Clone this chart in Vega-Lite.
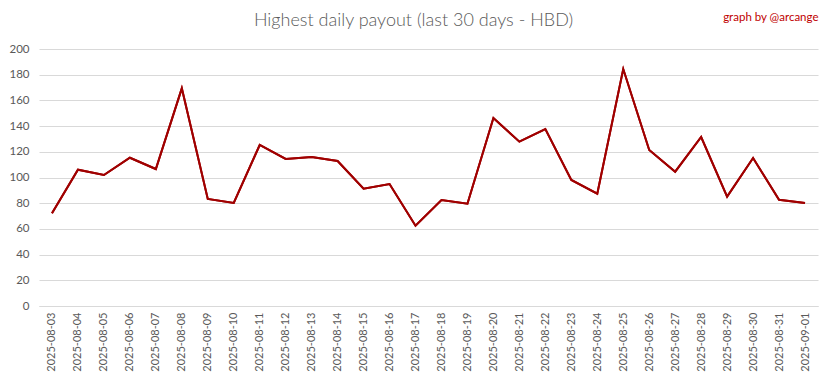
{
  "$schema": "https://vega.github.io/schema/vega-lite/v6.json",
  "autosize": "none",
  "width": 779,
  "height": 257,
  "padding": {"left": 39, "top": 49, "right": 15, "bottom": 73},
  "background": "white",
  "title": {
    "text": "Highest daily payout (last 30 days - HBD)",
    "anchor": "middle",
    "frame": "bounds",
    "font": "Lato",
    "fontWeight": 300,
    "fontSize": 18,
    "color": "#595959",
    "offset": -19
  },
  "data": {
    "values": [
      {"date": "2025-08-03", "payout": 72.1},
      {"date": "2025-08-04", "payout": 106.1},
      {"date": "2025-08-05", "payout": 101.9},
      {"date": "2025-08-06", "payout": 115.4},
      {"date": "2025-08-07", "payout": 106.6},
      {"date": "2025-08-08", "payout": 169.4},
      {"date": "2025-08-09", "payout": 83.3},
      {"date": "2025-08-10", "payout": 80.2},
      {"date": "2025-08-11", "payout": 125.3},
      {"date": "2025-08-12", "payout": 114.4},
      {"date": "2025-08-13", "payout": 116.0},
      {"date": "2025-08-14", "payout": 112.8},
      {"date": "2025-08-15", "payout": 91.3},
      {"date": "2025-08-16", "payout": 94.9},
      {"date": "2025-08-17", "payout": 62.5},
      {"date": "2025-08-18", "payout": 82.5},
      {"date": "2025-08-19", "payout": 79.6},
      {"date": "2025-08-20", "payout": 146.3},
      {"date": "2025-08-21", "payout": 127.9},
      {"date": "2025-08-22", "payout": 137.7},
      {"date": "2025-08-23", "payout": 98.1},
      {"date": "2025-08-24", "payout": 87.4},
      {"date": "2025-08-25", "payout": 184.4},
      {"date": "2025-08-26", "payout": 121.4},
      {"date": "2025-08-27", "payout": 104.5},
      {"date": "2025-08-28", "payout": 131.5},
      {"date": "2025-08-29", "payout": 85.1},
      {"date": "2025-08-30", "payout": 115.2},
      {"date": "2025-08-31", "payout": 82.7},
      {"date": "2025-09-01", "payout": 80.2}
    ]
  },
  "encoding": {
    "y": {
      "field": "payout",
      "type": "quantitative",
      "scale": {"domain": [0, 200], "nice": false},
      "axis": {
        "title": null,
        "values": [0, 20, 40, 60, 80, 100, 120, 140, 160, 180, 200],
        "labelOverlap": false,
        "labelPadding": 10,
        "labelFont": "Lato",
        "labelFontSize": 11.5,
        "labelColor": "#595959",
        "ticks": false,
        "domain": false,
        "grid": true,
        "gridColor": "#d9d9d9",
        "gridWidth": 1
      }
    }
  },
  "layer": [
    {
      "mark": {"type": "line", "color": "#A00000", "strokeWidth": 2},
      "encoding": {
        "x": {
          "field": "date",
          "type": "ordinal",
          "sort": null,
          "scale": {"type": "point", "padding": 0.5},
          "axis": {
            "title": null,
            "labelAngle": 270,
            "labelAlign": "right",
            "labelBaseline": "middle",
            "labelPadding": 6,
            "labelFont": "Lato",
            "labelFontSize": 11,
            "labelColor": "#595959",
            "labelOverlap": false,
            "ticks": false,
            "domain": true,
            "domainColor": "#d9d9d9",
            "grid": false
          }
        }
      }
    },
    {
      "mark": {"type": "line", "color": "#A00000", "strokeWidth": 2},
      "encoding": {
        "x": {
          "field": "date",
          "type": "ordinal",
          "sort": null,
          "scale": {"type": "point", "padding": 0.5},
          "axis": {
            "orient": "top",
            "title": "graph by @arcange",
            "titleColor": "#C00000",
            "titleFont": "Lato",
            "titleFontWeight": "normal",
            "titleFontSize": 11.5,
            "titleAnchor": "end",
            "titleAlign": "right",
            "titlePadding": 27,
            "labels": false,
            "ticks": false,
            "domain": false,
            "grid": false
          }
        }
      }
    }
  ],
  "resolve": {"axis": {"x": "independent"}},
  "config": {"view": {"stroke": null}}
}
